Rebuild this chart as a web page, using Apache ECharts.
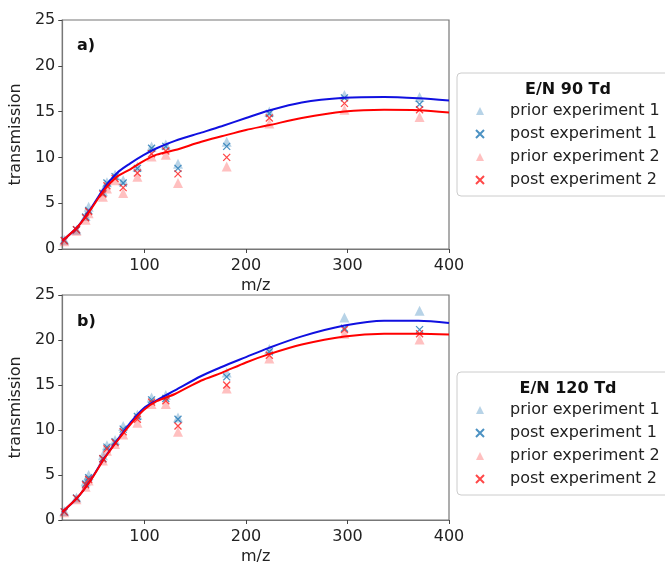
<!DOCTYPE html>
<html>
<head>
<meta charset="utf-8">
<script src="https://cdn.jsdelivr.net/npm/echarts@6/dist/echarts.min.js"></script>
<style>
  html, body { margin: 0; padding: 0; background: #fff; }
  #chart { width: 665px; height: 566px; }
</style>
</head>
<body>
<div id="chart"></div>
<script>
// m/z of the calibration compounds
const mz = [21, 33, 42, 45, 59, 63, 71, 79, 93, 107, 121, 133, 181, 223, 297, 371];

// E/N 90 Td
const prior1_90 = [1.0, 2.1, 3.6, 4.6, 6.3, 7.3, 8.1, 7.5, 9.0, 11.2, 11.4, 9.3, 11.7, 15.0, 16.8, 16.6];
const post1_90  = [0.95, 2.1, 3.5, 4.2, 6.1, 7.2, 7.9, 7.2, 8.8, 11.0, 11.2, 8.8, 11.2, 14.8, 16.5, 15.8];
const prior2_90 = [0.85, 2.0, 3.2, 3.9, 5.7, 6.6, 7.5, 6.1, 7.9, 10.1, 10.3, 7.2, 9.0, 13.7, 15.2, 14.4];
const post2_90  = [0.9, 2.1, 3.4, 4.1, 6.0, 6.9, 7.7, 6.7, 8.3, 10.4, 10.7, 8.2, 10.0, 14.3, 15.9, 15.2];

// E/N 120 Td
const prior1_120 = [1.0, 2.5, 4.3, 5.0, 7.2, 8.3, 8.9, 10.45, 11.7, 13.6, 13.9, 11.4, 16.4, 19.0, 22.5, 23.25];
const post1_120  = [0.9, 2.45, 4.0, 4.7, 6.8, 8.1, 8.7, 10.1, 11.5, 13.35, 13.5, 11.2, 15.9, 18.7, 21.3, 21.15];
const prior2_120 = [0.85, 2.3, 3.7, 4.4, 6.6, 7.7, 8.45, 9.5, 10.8, 12.9, 12.9, 9.8, 14.6, 17.95, 20.7, 20.05];
const post2_120  = [0.9, 2.4, 3.9, 4.5, 6.8, 7.9, 8.6, 9.8, 11.2, 13.1, 13.25, 10.45, 15.0, 18.3, 21.15, 20.7];

// fitted transmission curves
const fitMz = [19, 34, 47, 60, 73, 86, 99, 112, 130, 156, 176, 200, 222, 255, 297, 336, 370, 400];
const fit1_90  = [0.9, 2.4, 4.4, 6.6, 8.3, 9.35, 10.25, 11.0, 11.8, 12.7, 13.4, 14.3, 15.1, 16.0, 16.5, 16.6, 16.45, 16.2];
const fit2_90  = [0.9, 2.4, 4.3, 6.4, 7.9, 8.7, 9.6, 10.3, 10.8, 11.7, 12.3, 13.0, 13.5, 14.3, 15.0, 15.2, 15.15, 14.9];
const fit1_120 = [0.9, 2.5, 4.45, 6.8, 8.85, 10.8, 12.4, 13.3, 14.4, 16.0, 17.0, 18.1, 19.1, 20.4, 21.6, 22.15, 22.15, 21.9];
const fit2_120 = [0.9, 2.5, 4.4, 6.75, 8.75, 10.6, 12.2, 13.2, 14.0, 15.5, 16.35, 17.5, 18.4, 19.5, 20.4, 20.7, 20.7, 20.6];

const yTicks = [0, 5, 10, 15, 20, 25];
const xTicks = [100, 200, 300, 400];
const names = ['prior experiment 1', 'post experiment 1', 'prior experiment 2', 'post experiment 2'];

const font = 'DejaVu Sans';
const fs = 16;
const crossPath = 'path://M0,0L10,10M0,10L10,0';

function pairs(xs, ys) {
  return xs.map((x, i) => [x, ys[i]]);
}

function xAxis(idx) {
  return {
    type: 'value', gridIndex: idx, min: 19, max: 400,
    name: 'm/z', nameLocation: 'middle', nameGap: 29,
    nameTextStyle: { fontFamily: font, fontSize: fs, color: '#222' },
    axisLine: { show: true, lineStyle: { color: '#777', width: 1.2 } },
    axisTick: { show: true, customValues: xTicks, length: 4, lineStyle: { color: '#444' } },
    axisLabel: { customValues: xTicks, margin: 9, fontFamily: font, fontSize: fs, color: '#222' },
    splitLine: { show: false }
  };
}

function yAxis(idx) {
  return {
    type: 'value', gridIndex: idx, min: yTicks[0], max: yTicks[yTicks.length - 1], interval: 5,
    name: 'transmission', nameLocation: 'middle', nameGap: 32,
    nameTextStyle: { fontFamily: font, fontSize: fs, color: '#222' },
    axisLine: { show: true, lineStyle: { color: '#777', width: 1.2 } },
    axisTick: { show: true, length: 4, lineStyle: { color: '#444' } },
    axisLabel: { margin: 7, fontFamily: font, fontSize: fs, color: '#222' },
    splitLine: { show: false }
  };
}

function scatterSet(idx, p1, q1, p2, q2) {
  const base = { type: 'scatter', xAxisIndex: idx, yAxisIndex: idx };
  return [
    Object.assign({}, base, { name: names[0], data: pairs(mz, p1), symbol: 'triangle', symbolSize: 10,
      itemStyle: { color: 'rgba(31,119,180,0.4)' }, z: 2 }),
    Object.assign({}, base, { name: names[1], data: pairs(mz, q1), symbol: crossPath, symbolSize: 7,
      itemStyle: { color: 'transparent', borderColor: '#1f77b4', borderWidth: 1.3 }, z: 3 }),
    Object.assign({}, base, { name: names[2], data: pairs(mz, p2), symbol: 'triangle', symbolSize: 10,
      itemStyle: { color: 'rgba(255,60,60,0.4)' }, z: 2 }),
    Object.assign({}, base, { name: names[3], data: pairs(mz, q2), symbol: crossPath, symbolSize: 7,
      itemStyle: { color: 'transparent', borderColor: '#ff1a1a', borderWidth: 1.3 }, z: 3 })
  ];
}

function fitLine(idx, ys, color) {
  return {
    type: 'line', xAxisIndex: idx, yAxisIndex: idx, data: pairs(fitMz, ys),
    symbol: 'none', smooth: 0.3, lineStyle: { color: color, width: 2 }, z: 4, silent: true
  };
}

function legend(top) {
  return {
    orient: 'vertical', left: 457, top: top,
    padding: [30, 20, 8, 18], itemGap: 7, itemWidth: 8, itemHeight: 8,
    borderColor: '#ccc', borderWidth: 1, borderRadius: 4, backgroundColor: '#fff',
    data: names,
    textStyle: { fontFamily: font, fontSize: fs, color: '#222', padding: [0, 0, 0, 21] }
  };
}

const boldText = { fontFamily: font, fontSize: fs, fontWeight: 'bold', color: '#111' };

const chart = echarts.init(document.getElementById('chart'));
chart.setOption({
  animation: false,
  backgroundColor: '#fff',
  title: [
    { text: 'a)', left: 72, top: 33, textStyle: boldText },
    { text: 'b)', left: 72, top: 309, textStyle: boldText },
    { text: 'E/N 90 Td', left: 563, top: 77, textAlign: 'center', textStyle: boldText },
    { text: 'E/N 120 Td', left: 563, top: 376, textAlign: 'center', textStyle: boldText }
  ],
  grid: [
    { left: 60, top: 20, width: 389, height: 229, show: true, borderColor: '#777', borderWidth: 1.2 },
    { left: 60, top: 295, width: 389, height: 229, show: true, borderColor: '#777', borderWidth: 1.2 }
  ],
  xAxis: [xAxis(0), xAxis(1)],
  yAxis: [yAxis(0), yAxis(1)],
  legend: [legend(73), legend(372)],
  series: [].concat(
    scatterSet(0, prior1_90, post1_90, prior2_90, post2_90),
    scatterSet(1, prior1_120, post1_120, prior2_120, post2_120),
    [
      fitLine(0, fit1_90, '#1010e0'),
      fitLine(0, fit2_90, '#ff0000'),
      fitLine(1, fit1_120, '#1010e0'),
      fitLine(1, fit2_120, '#ff0000')
    ]
  )
});
</script>
</body>
</html>
